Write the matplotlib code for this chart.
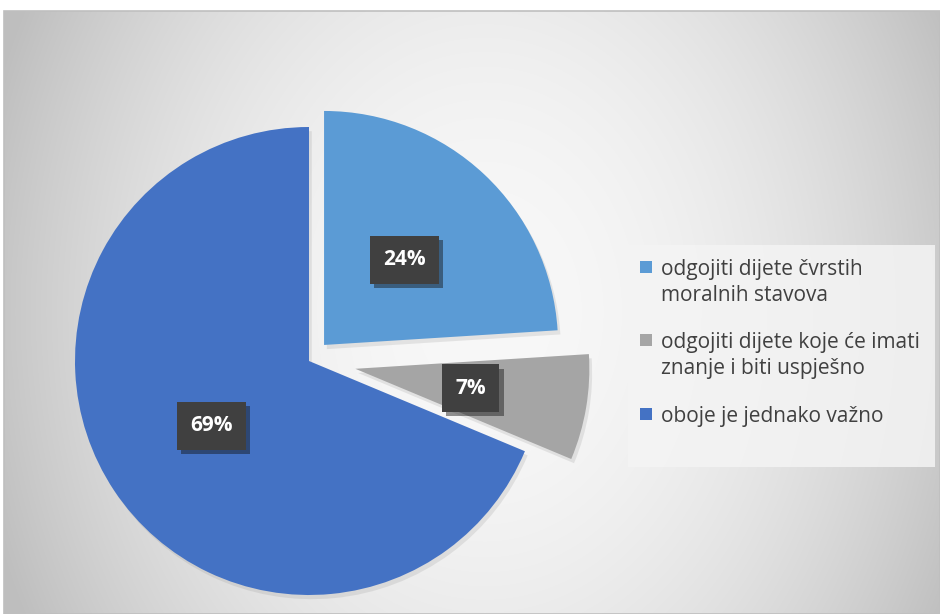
import numpy as np
import matplotlib
matplotlib.use("Agg")
import matplotlib.pyplot as plt
from matplotlib.patches import Rectangle
import matplotlib.patheffects as pe

# podaci
categories = ["odgojiti dijete čvrstih\nmoralnih stavova",
              "odgojiti dijete koje će imati\nznanje i biti uspješno",
              "oboje je jednako važno"]
values = [24.0, 7.3, 68.7]
colors = ["#5B9BD5", "#A5A5A5", "#4472C4"]
explode = [22, 47, 0]   # pomak u pikselima (radius = 234)

W, H = 940, 614
fig = plt.figure(figsize=(W / 100, H / 100), dpi=100)
fig.patch.set_facecolor("white")
ax = fig.add_axes([0, 0, 1, 1])

# radijalni gradijent pozadine (podrucje grafikona)
x0, x1, y0, y1 = 4, 940, 0, 603
xx, yy = np.meshgrid(np.linspace(x0, x1, 936), np.linspace(y1, y0, 603))
dx = (xx - 485) / 470.0
dy = (yy - 302) / 301.0
v = 248 - 47 * dx ** 2 - 12 * dy ** 2
v = np.clip(v, 190, 250) / 255.0
img = np.dstack([v, v, v])
ax.imshow(img, extent=(x0, x1, y0, y1), origin="upper", zorder=0, interpolation="bilinear")
ax.add_patch(Rectangle((x0, y0), x1 - x0, y1 - y0, fill=False, edgecolor="#bfbfbf", lw=1.2, zorder=1))

# pita
wedges, texts, autotexts = ax.pie(
    values, colors=colors, explode=explode, startangle=90, counterclock=False,
    radius=234, center=(309, 253), autopct="%1.0f%%", pctdistance=0.5,
    wedgeprops=dict(linewidth=0),
    textprops=dict(color="white", fontsize=15, fontweight="bold", family="Open Sans"),
)
for w in wedges:
    w.set_zorder(2)
    w.set_path_effects([pe.SimplePatchShadow(offset=(2, -3), shadow_rgbFace="#888888", alpha=0.18), pe.Normal()])

for t in autotexts:
    t.set_zorder(5)
    t.set_bbox(dict(boxstyle="square,pad=0.64", facecolor="#404040", edgecolor="none"))
    t.get_bbox_patch().set_path_effects([pe.SimplePatchShadow(offset=(3, -3), alpha=0.45), pe.Normal()])

ax.set_xlim(0, W)
ax.set_ylim(0, H)
ax.set_aspect("auto")
ax.axis("off")

# legenda
ax.add_patch(Rectangle((628, H - 467), 307, 222, facecolor="#f4f4f4", edgecolor="none", alpha=0.85, zorder=3))
entry_tops = [259, 332, 406]
for lab, col, top in zip(categories, colors, entry_tops):
    ax.add_patch(Rectangle((640, H - top - 14), 12, 12, facecolor=col, edgecolor="none", zorder=4))
    ax.text(661, H - top, lab, fontsize=15, family="Open Sans", color="#404040",
            va="top", ha="left", linespacing=1.33, zorder=4)

fig.savefig("out.png", dpi=100)
